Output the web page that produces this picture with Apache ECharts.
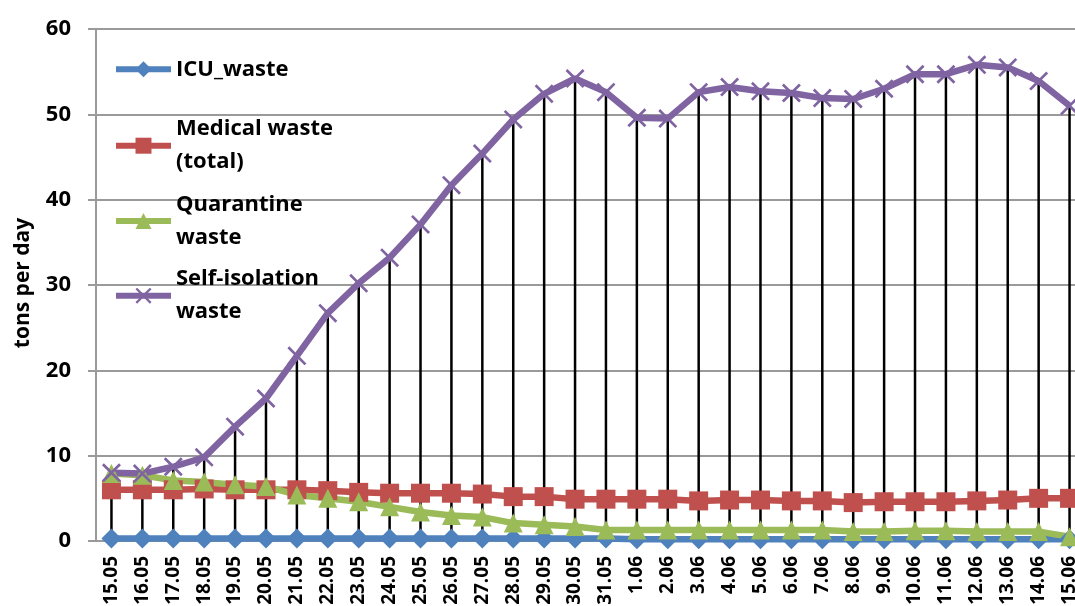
<!DOCTYPE html>
<html><head><meta charset="utf-8">
<script src="https://cdn.jsdelivr.net/npm/echarts@6/dist/echarts.min.js"></script>
<style>html,body{margin:0;padding:0;background:#fff}#c{width:1075px;height:606px}</style>
</head><body><div id="c"></div>
<script>
const categories = ['15.05','16.05','17.05','18.05','19.05','20.05','21.05','22.05','23.05','24.05','25.05','26.05','27.05','28.05','29.05','30.05','31.05','1.06','2.06','3.06','4.06','5.06','6.06','7.06','8.06','9.06','10.06','11.06','12.06','13.06','14.06','15.06'];
const icuWaste = [0.3,0.3,0.3,0.3,0.3,0.3,0.3,0.3,0.3,0.3,0.3,0.3,0.3,0.3,0.3,0.3,0.3,0.2,0.2,0.2,0.2,0.2,0.2,0.2,0.2,0.2,0.2,0.2,0.2,0.2,0.2,0.2];
const medicalWaste = [6.0,6.0,6.0,6.1,6.0,6.0,6.0,5.9,5.7,5.6,5.6,5.6,5.5,5.2,5.2,4.9,4.9,4.9,4.9,4.7,4.8,4.8,4.7,4.7,4.5,4.6,4.6,4.6,4.7,4.8,5.0,5.0];
const quarantineWaste = [7.9,7.7,7.1,6.9,6.6,6.4,5.4,5.0,4.6,4.0,3.4,3.0,2.8,2.1,1.9,1.7,1.3,1.3,1.3,1.3,1.3,1.3,1.3,1.3,1.1,1.1,1.2,1.2,1.1,1.1,1.1,0.5];
const selfIsolationWaste = [8.0,7.9,8.7,9.8,13.4,16.7,21.7,26.7,30.2,33.2,37.1,41.7,45.4,49.4,52.4,54.2,52.6,49.6,49.5,52.6,53.2,52.7,52.5,51.9,51.8,53.0,54.7,54.7,55.8,55.5,53.9,51.0];
const seriesNames = ['ICU_waste','Medical waste (total)','Quarantine waste','Self-isolation waste'];
const legendLabels = ['ICU_waste','Medical waste\n(total)','Quarantine\nwaste','Self-isolation\nwaste'];
const yTicks = {min:0, max:60, interval:10};

const FONT = 'Open Sans';
const colors = ['#4F81BD','#C0504D','#9BBB59','#8064A2'];
const crossPath = 'path://M0,1L1,0L5,4L9,0L10,1L6,5L10,9L9,10L5,6L1,10L0,9L4,5Z';

function lineSeries(i, data, symbol, size) {
  return {
    name: seriesNames[i], type: 'line', data: data,
    symbol: symbol, symbolSize: size, showSymbol: true,
    lineStyle: {color: colors[i], width: 6.5},
    itemStyle: {color: colors[i]},
    emphasis: {disabled: true}, animation: false
  };
}
const legendTops = [52.8, 96.2, 171.5, 246.2];
const legends = seriesNames.map((n, i) => ({
  data: [n], left: 113, top: legendTops[i], orient: 'vertical', padding: 0,
  itemWidth: 55, itemHeight: 20, selectedMode: false,
  lineStyle: {width: 6},
  formatter: () => legendLabels[i],
  textStyle: {fontFamily: FONT, fontWeight: 'bold', fontSize: 22, lineHeight: 33, color: '#000',
    padding: legendLabels[i].indexOf('\n') >= 0 ? [33,0,0,0] : 0}
}));

const chart = echarts.init(document.getElementById('c'));
chart.setOption({
  animation: false,
  backgroundColor: '#fff',
  grid: {left: 96, top: 29, width: 989, height: 512, outerBoundsMode: 'none', containLabel: false},
  legend: legends,
  xAxis: {
    type: 'category', data: categories, boundaryGap: true,
    axisLine: {show: true, lineStyle: {color: '#9a9a9a', width: 2}},
    axisTick: {show: false},
    axisLabel: {rotate: 90, margin: 15, fontFamily: FONT, fontWeight: 'bold', fontSize: 19, color: '#000', interval: 0}
  },
  yAxis: {
    type: 'value', min: yTicks.min, max: yTicks.max, interval: yTicks.interval,
    name: 'tons per day', nameLocation: 'middle', nameGap: 62,
    nameTextStyle: {fontFamily: FONT, fontWeight: 'bold', fontSize: 21, color: '#000', padding: [0,0,0,4]},
    axisLine: {show: true, lineStyle: {color: '#9a9a9a', width: 2}},
    axisTick: {show: true, length: 8, inside: false, lineStyle: {color: '#9a9a9a', width: 2}},
    splitLine: {show: true, lineStyle: {color: '#9a9a9a', width: 2}},
    axisLabel: {margin: 25, fontFamily: FONT, fontWeight: 'bold', fontSize: 22, color: '#000'}
  },
  series: [
    lineSeries(0, icuWaste, 'diamond', 20),
    lineSeries(1, medicalWaste, 'rect', 19),
    lineSeries(2, quarantineWaste, 'triangle', 19),
    {name: 'drop lines', type: 'bar', data: selfIsolationWaste, barWidth: 2.5,
     itemStyle: {color: '#000'}, silent: true, animation: false},
    lineSeries(3, selfIsolationWaste, crossPath, 19)
  ]
});
</script></body></html>
